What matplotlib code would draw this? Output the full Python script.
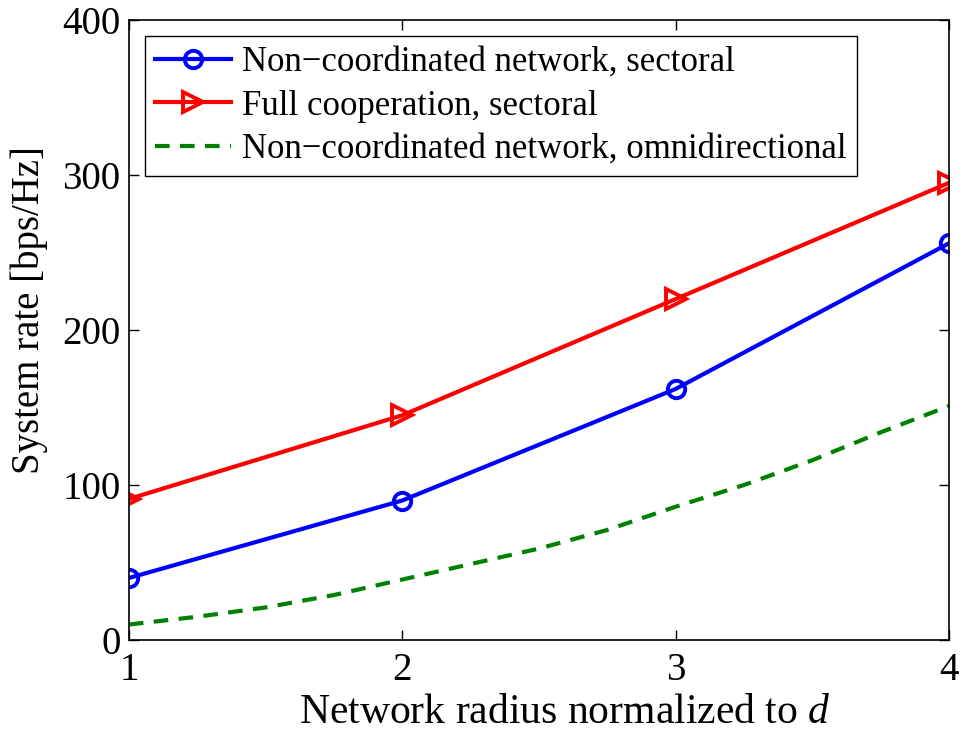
import numpy as np
import matplotlib
matplotlib.use('Agg')
import matplotlib.pyplot as plt

# ~~~ DATA ~~~
radius = [1, 2, 3, 4]
rate_noncoord_sect = [40, 90, 162, 256]
rate_full_coop = [91, 145, 220, 295]
radius_omni = [1.0, 1.25, 1.5, 1.75, 2.0, 2.25, 2.5, 2.75, 3.0, 3.25, 3.5, 3.75, 4.0]
rate_noncoord_omni = [10, 15, 21, 29, 39, 49, 59, 71, 86, 100, 116, 134, 151]

labels = ['Non\u2212coordinated network, sectoral',
          'Full cooperation, sectoral',
          'Non\u2212coordinated network, omnidirectional']

plt.rcParams['font.family'] = ['Liberation Serif', 'DejaVu Serif']
plt.rcParams['mathtext.fontset'] = 'custom'
plt.rcParams['mathtext.rm'] = 'Liberation Serif'
plt.rcParams['mathtext.it'] = 'Liberation Serif:italic'

fig = plt.figure(figsize=(9.62, 7.31), dpi=100)
ax = fig.add_axes([0.134, 0.1245, 0.8525, 0.848])

ax.plot(radius, rate_noncoord_sect, color='b', lw=3, marker='o', ms=12.5,
        mfc='none', mec='b', mew=2.8, label=labels[0])
ax.plot(radius, rate_full_coop, color='r', lw=3, marker='>', ms=15,
        mfc='none', mec='r', mew=2.8, label=labels[1])
ax.plot(radius_omni, rate_noncoord_omni, color=(0, 0.5, 0), lw=3,
        dashes=(3.5, 2.5), label=labels[2])

ax.set_xlim(1, 4)
ax.set_ylim(0, 400)
ax.set_xticks([1, 2, 3, 4])
ax.set_yticks([0, 100, 200, 300, 400])
ax.tick_params(direction='in', top=True, right=True, length=7, width=1,
               labelsize=28)
ax.tick_params(axis='x', pad=9)
ax.tick_params(axis='y', pad=6)
for s in ax.spines.values():
    s.set_linewidth(1.2)

ax.set_xlabel('Network radius normalized to $d$', fontsize=30, labelpad=3)
ax.set_ylabel('System rate [bps/Hz]', fontsize=28, labelpad=10)
ax.xaxis.label.set_x(0.532)
ax.yaxis.label.set_y(0.532)

leg = ax.legend(loc='upper left', fontsize=25, handlelength=2.2,
                fancybox=False, framealpha=1, edgecolor='k',
                borderpad=0.3, labelspacing=0.3, handletextpad=0.3,
                borderaxespad=0.45)
leg.get_frame().set_linewidth(1.0)

plt.savefig('out.png', dpi=100)
